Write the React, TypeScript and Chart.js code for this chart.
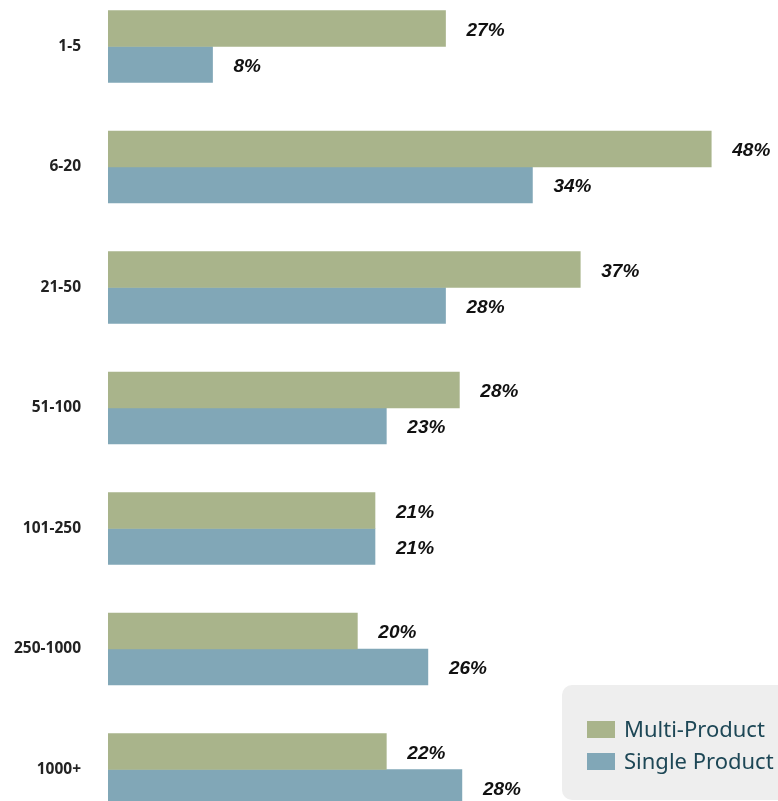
import React, { useEffect, useRef } from "react";
import { Chart, registerables } from "chart.js";

Chart.register(...registerables);

const categories = ["1-5", "6-20", "21-50", "51-100", "101-250", "250-1000", "1000+"];
const multiProduct = [26.8, 47.9, 37.5, 27.9, 21.2, 19.8, 22.1];
const singleProduct = [8.3, 33.7, 26.8, 22.1, 21.2, 25.4, 28.1];
const multiLabels = ["27%", "48%", "37%", "28%", "21%", "20%", "22%"];
const singleLabels = ["8%", "34%", "28%", "23%", "21%", "26%", "28%"];
const seriesNames = ["Multi-Product", "Single Product"];
const seriesColors = ["#a9b48b", "#81a7b7"];

const TOP_OFFSET = 50;
const CANVAS_H = 916;

const valueLabelPlugin = {
  id: "valueLabels",
  afterDatasetsDraw(chart: any) {
    const ctx = chart.ctx;
    const texts = [multiLabels, singleLabels];
    ctx.save();
    ctx.font = "italic bold 19px 'Liberation Sans', sans-serif";
    ctx.fillStyle = "#111111";
    ctx.textAlign = "left";
    ctx.textBaseline = "middle";
    chart.data.datasets.forEach((_: any, di: number) => {
      const meta = chart.getDatasetMeta(di);
      meta.data.forEach((bar: any, i: number) => {
        ctx.fillText(texts[di][i], bar.x + 21, bar.y + 2);
      });
    });
    ctx.restore();
  },
};

const legendPlugin = {
  id: "boxLegend",
  afterDraw(chart: any) {
    const ctx = chart.ctx;
    ctx.save();
    const bx = 562;
    const by = 685 + TOP_OFFSET;
    ctx.fillStyle = "#eeeeee";
    ctx.beginPath();
    (ctx as any).roundRect(bx, by, 260, 115, 10);
    ctx.fill();
    ctx.font = "22px 'Noto Sans', sans-serif";
    ctx.textAlign = "left";
    ctx.textBaseline = "middle";
    chart.data.datasets.forEach((ds: any, i: number) => {
      const cy = 729.5 + TOP_OFFSET + i * 32;
      ctx.fillStyle = ds.backgroundColor;
      ctx.fillRect(587, cy - 8.5, 28, 17);
      ctx.fillStyle = "#1d4756";
      ctx.fillText(ds.label, 624, cy + 1);
    });
    ctx.restore();
  },
};

export default function App() {
  const ref = useRef<HTMLCanvasElement>(null);
  useEffect(() => {
    document.body.style.margin = "0";
    document.body.style.overflow = "hidden";
    const chart = new Chart(ref.current!, {
      type: "bar",
      data: {
        labels: categories,
        datasets: [
          { label: seriesNames[0], data: multiProduct, backgroundColor: seriesColors[0], barThickness: 36 },
          { label: seriesNames[1], data: singleProduct, backgroundColor: seriesColors[1], barThickness: 36 },
        ],
      },
      options: {
        indexAxis: "y",
        animation: false,
        responsive: false,
        maintainAspectRatio: false,
        layout: { padding: 0 },
        plugins: {
          legend: { display: false },
          tooltip: { enabled: false },
        },
        scales: {
          x: { display: false, min: 0, max: 53.2 },
          y: {
            grid: { display: false, drawTicks: false },
            border: { display: false },
            ticks: {
              padding: 27,
              color: "#222222",
              font: { family: "'Noto Sans', sans-serif", size: 15.5, weight: "bold", lineHeight: 1.2 },
            },
            afterFit(scale: any) {
              scale.width = 108;
            },
          },
        },
      },
      plugins: [valueLabelPlugin, legendPlugin],
    });
    return () => chart.destroy();
  }, []);
  return (
    <div style={{ position: "relative", width: 778, height: 801, overflow: "hidden" }}>
      <canvas
        ref={ref}
        width={778}
        height={CANVAS_H}
        style={{ position: "absolute", left: 0, top: -TOP_OFFSET, width: 778, height: CANVAS_H }}
      />
    </div>
  );
}
